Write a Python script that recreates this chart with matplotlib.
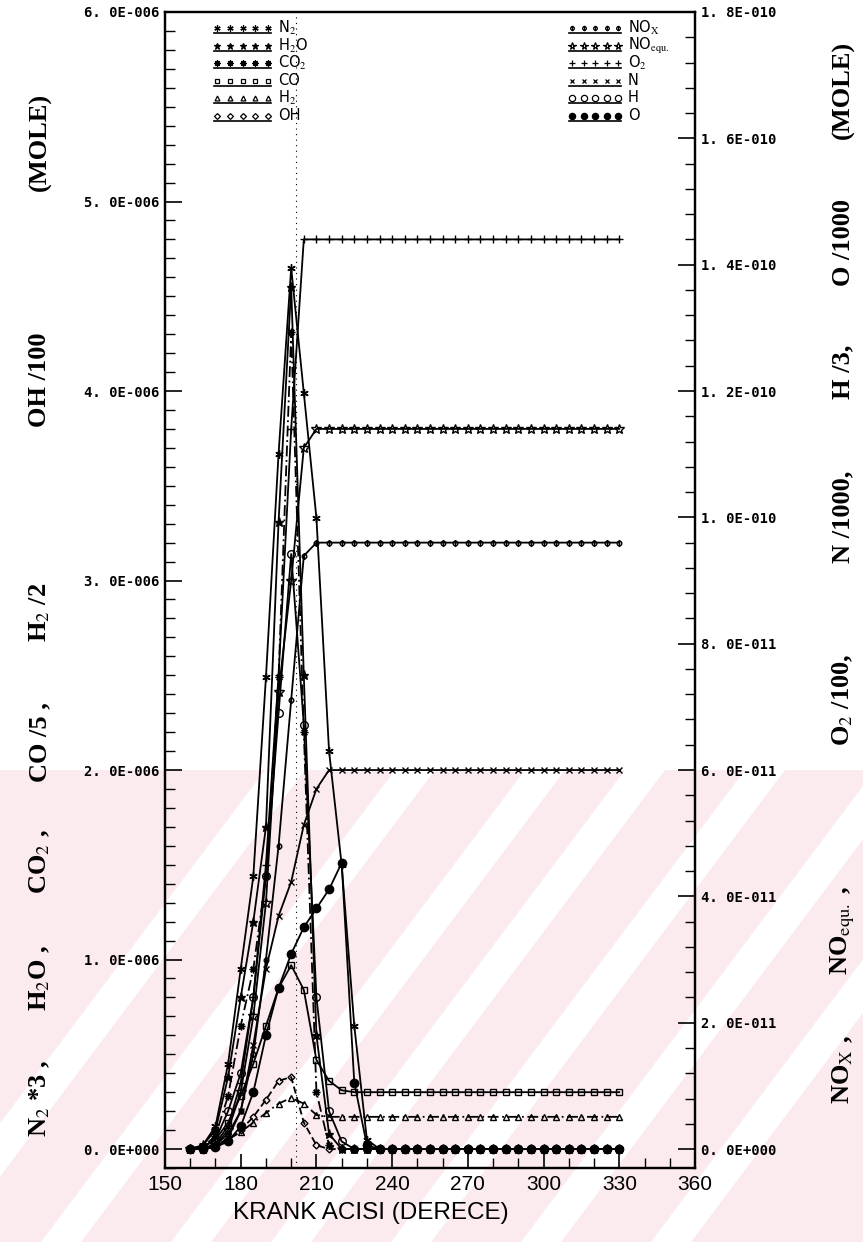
import matplotlib
matplotlib.use("Agg")
import matplotlib.pyplot as plt
from matplotlib.path import Path
from matplotlib.patches import Polygon
from matplotlib.ticker import MultipleLocator, FixedLocator

# ---------------- data ----------------
crank = [160, 165, 170, 175, 180, 185, 190, 195, 200, 205, 210, 215, 220, 225, 230, 235,
         240, 245, 250, 255, 260, 265, 270, 275, 280, 285, 290, 295, 300, 305, 310, 315,
         320, 325, 330]

# left axis series (x 1e-6 mole)
n2x3 = [0, 0.02, 0.12, 0.45, 0.95, 1.44, 2.49, 3.67, 4.65, 3.99, 3.33, 2.10, 1.50, 0.65, 0.05, 0,
        0, 0, 0, 0, 0, 0, 0, 0, 0, 0, 0, 0, 0, 0, 0, 0, 0, 0, 0]
h2o = [0, 0.02, 0.10, 0.38, 0.80, 1.20, 1.70, 3.31, 4.55, 2.50, 0.60, 0.08, 0, 0, 0, 0,
       0, 0, 0, 0, 0, 0, 0, 0, 0, 0, 0, 0, 0, 0, 0, 0, 0, 0, 0]
co2 = [0, 0.01, 0.07, 0.28, 0.65, 0.95, 1.44, 2.49, 4.31, 2.20, 0.30, 0.02, 0, 0, 0, 0,
       0, 0, 0, 0, 0, 0, 0, 0, 0, 0, 0, 0, 0, 0, 0, 0, 0, 0, 0]
co_5 = [0, 0.01, 0.05, 0.14, 0.28, 0.45, 0.65, 0.85, 0.97, 0.84, 0.47, 0.36, 0.31, 0.30, 0.30, 0.30,
        0.30, 0.30, 0.30, 0.30, 0.30, 0.30, 0.30, 0.30, 0.30, 0.30, 0.30, 0.30, 0.30, 0.30, 0.30, 0.30,
        0.30, 0.30, 0.30]
h2_2 = [0, 0, 0.02, 0.05, 0.09, 0.14, 0.19, 0.24, 0.27, 0.24, 0.18, 0.17, 0.17, 0.17, 0.17, 0.17,
        0.17, 0.17, 0.17, 0.17, 0.17, 0.17, 0.17, 0.17, 0.17, 0.17, 0.17, 0.17, 0.17, 0.17, 0.17, 0.17,
        0.17, 0.17, 0.17]
oh_100 = [0, 0, 0.02, 0.05, 0.10, 0.17, 0.26, 0.36, 0.38, 0.14, 0.02, 0, 0, 0, 0, 0,
          0, 0, 0, 0, 0, 0, 0, 0, 0, 0, 0, 0, 0, 0, 0, 0, 0, 0, 0]

# right axis series (x 1e-11 mole)
nox = [0, 0, 0.06, 0.24, 0.60, 1.50, 3.00, 4.80, 7.11, 9.39, 9.60, 9.60, 9.60, 9.60, 9.60, 9.60,
       9.60, 9.60, 9.60, 9.60, 9.60, 9.60, 9.60, 9.60, 9.60, 9.60, 9.60, 9.60, 9.60, 9.60, 9.60, 9.60,
       9.60, 9.60, 9.60]
no_equ = [0, 0, 0.06, 0.30, 0.90, 2.10, 3.90, 7.23, 9.00, 11.1, 11.4, 11.4, 11.4, 11.4, 11.4, 11.4,
          11.4, 11.4, 11.4, 11.4, 11.4, 11.4, 11.4, 11.4, 11.4, 11.4, 11.4, 11.4, 11.4, 11.4, 11.4, 11.4,
          11.4, 11.4, 11.4]
o2_100 = [0, 0, 0.09, 0.36, 1.05, 2.40, 4.50, 7.50, 11.4, 14.4, 14.4, 14.4, 14.4, 14.4, 14.4, 14.4,
          14.4, 14.4, 14.4, 14.4, 14.4, 14.4, 14.4, 14.4, 14.4, 14.4, 14.4, 14.4, 14.4, 14.4, 14.4, 14.4,
          14.4, 14.4, 14.4]
n_1000 = [0, 0, 0.03, 0.18, 0.60, 1.65, 2.85, 3.69, 4.23, 5.13, 5.70, 6.00, 6.00, 6.00, 6.00, 6.00,
          6.00, 6.00, 6.00, 6.00, 6.00, 6.00, 6.00, 6.00, 6.00, 6.00, 6.00, 6.00, 6.00, 6.00, 6.00, 6.00,
          6.00, 6.00, 6.00]
h_3 = [0, 0.03, 0.15, 0.60, 1.20, 2.40, 4.32, 6.90, 9.42, 6.72, 2.40, 0.60, 0.12, 0, 0, 0,
       0, 0, 0, 0, 0, 0, 0, 0, 0, 0, 0, 0, 0, 0, 0, 0, 0, 0, 0]
o_1000 = [0, 0, 0.03, 0.12, 0.36, 0.90, 1.80, 2.55, 3.09, 3.51, 3.81, 4.11, 4.53, 1.05, 0.06, 0,
          0, 0, 0, 0, 0, 0, 0, 0, 0, 0, 0, 0, 0, 0, 0, 0, 0, 0, 0]

left_ticks = [0, 1, 2, 3, 4, 5, 6]
left_ticklabels = ["0. 0E+000", "1. 0E-006", "2. 0E-006", "3. 0E-006", "4. 0E-006", "5. 0E-006", "6. 0E-006"]
right_ticks = [0, 2, 4, 6, 8, 10, 12, 14, 16, 18]
right_ticklabels = ["0. 0E+000", "2. 0E-011", "4. 0E-011", "6. 0E-011", "8. 0E-011", "1. 0E-010",
                    "1. 2E-010", "1. 4E-010", "1. 6E-010", "1. 8E-010"]
x_ticks = [150, 180, 210, 240, 270, 300, 330, 360]
marker_line_deg = 202

left_label_parts = [r"N$_2$ *3 ,", r"H$_2$O ,", r"CO$_2$ ,", r"CO /5 ,", r"H$_2$ /2", r"OH /100", r"(MOLE)"]
right_label_parts = [r"NO$_{\rm X}$ ,", r"NO$_{\rm equ.}$ ,", r"O$_2$ /100,", r"N /1000,", r"H /3,",
                     r"O /1000", r"(MOLE)"]

# ---------------- figure ----------------
W, H, DPI = 863, 1242, 100
fig = plt.figure(figsize=(W / DPI, H / DPI), dpi=DPI)
plt.rcParams["mathtext.fontset"] = "stix"


def fpt(px, py):
    return px / W, 1 - py / H


# light pink watermark of the scanned page
pink = "#fcebee"
fig.patches.append(Polygon([fpt(0, 770), fpt(W, 770), fpt(W, H), fpt(0, H)], closed=True,
                           transform=fig.transFigure, facecolor=pink, edgecolor="none", zorder=-10))
for c in (40, 170, 300, 400, 520, 650, 780):
    sl = -0.75
    xa, xb = c + sl * (770 - 1070), c + sl * (H - 1070)
    fig.patches.append(Polygon([fpt(xa, 770), fpt(xa + 40, 770), fpt(xb + 40, H), fpt(xb, H)],
                               closed=True, transform=fig.transFigure, facecolor="white",
                               edgecolor="none", zorder=-9))

L, R, T, B = 165, 695, 12, 1168
ax = fig.add_axes([L / W, 1 - B / H, (R - L) / W, (B - T) / H])
ax.set_facecolor("none")
ax.set_xlim(150, 360)
ax.set_ylim(-0.1, 6.0)
ax2 = ax.twinx()
ax2.set_ylim(-0.3, 18.0)

for a in (ax, ax2):
    for s in a.spines.values():
        s.set_linewidth(1.6)

# custom markers
circ = Path.unit_circle()
phi_marker = Path.make_compound_path(circ, Path([(0, -1.5), (0, 1.5)], [Path.MOVETO, Path.LINETO]))
star6 = (6, 2, 0)

styles_left = [
    (n2x3, dict(marker=star6, ms=6, mfc="k", ls="-")),
    (h2o, dict(marker="*", ms=6.5, mfc="k", ls="-")),
    (co2, dict(marker=(8, 2, 0), ms=5.5, mfc="k", ls=(0, (6, 2, 1, 2)))),
    (co_5, dict(marker="s", ms=4.5, mfc="none", ls="-")),
    (h2_2, dict(marker="^", ms=4.5, mfc="none", ls=(0, (6, 2, 1, 2)))),
    (oh_100, dict(marker="D", ms=3.5, mfc="none", ls=(0, (4, 2)))),
]
for vals, st in styles_left:
    ax.plot(crank, vals, color="k", lw=1.3, mec="k", mew=1.0, **st)

styles_right = [
    (nox, dict(marker=phi_marker, ms=5, mfc="none", ls="-")),
    (no_equ, dict(marker="*", ms=7, mfc="none", ls="-")),
    (o2_100, dict(marker="+", ms=5.5, ls="-")),
    (n_1000, dict(marker="x", ms=4.5, ls="-")),
    (h_3, dict(marker="o", ms=5.5, mfc="none", ls="-")),
    (o_1000, dict(marker="o", ms=6, mfc="k", ls="-")),
]
for vals, st in styles_right:
    ax2.plot(crank, vals, color="k", lw=1.3, mec="k", mew=1.0, **st)

ax.axvline(marker_line_deg, color="k", lw=0.8, ls=(0, (1, 4)))

# ticks
tick_font = dict(family="DejaVu Sans Mono", weight="bold", size=10)
ax.yaxis.set_major_locator(FixedLocator(left_ticks))
ax.set_yticklabels(left_ticklabels, **tick_font)
ax.yaxis.set_minor_locator(MultipleLocator(0.1))
ax2.yaxis.set_major_locator(FixedLocator(right_ticks))
ax2.set_yticklabels(right_ticklabels, **tick_font)
ax2.yaxis.set_minor_locator(MultipleLocator(0.4))
ax.tick_params(axis="y", which="major", direction="in", length=12, width=1.2, pad=4)
ax.tick_params(axis="y", which="minor", direction="in", length=7, width=1.0)
ax2.tick_params(axis="y", which="major", direction="in", length=12, width=1.2, pad=4)
ax2.tick_params(axis="y", which="minor", direction="in", length=7, width=1.0)

sans = ["Liberation Sans", "DejaVu Sans"]
ax.xaxis.set_major_locator(FixedLocator(x_ticks))
ax.xaxis.set_minor_locator(MultipleLocator(10))
ax.set_xticklabels([str(v) for v in x_ticks], family=sans, size=15)
ax.tick_params(axis="x", which="major", direction="in", length=10, width=1.2, pad=5)
ax.tick_params(axis="x", which="minor", direction="in", length=7, width=1.0)

fig.text(*fpt(371, 1213), "KRANK ACISI (DERECE)", family=sans, size=17.5, ha="center", va="center")

serif = ["Liberation Serif", "DejaVu Serif"]
left_centers = [1098, 978, 862, 742, 612, 380, 142]
for txt, cy in zip(left_label_parts, left_centers):
    fig.text(*fpt(40, cy), txt, rotation=90, ha="center", va="center",
             family=serif, weight="bold", size=19)
right_centers = [1070, 930, 700, 517, 372, 243, 90]
for txt, cy in zip(right_label_parts, right_centers):
    fig.text(*fpt(843, cy), txt, rotation=90, ha="center", va="center",
             family=serif, weight="bold", size=19)

# legends (drawn inside the axes)
def px2ax(px, py):
    return (px - L) / (R - L), (B - py) / (B - T)

left_leg = [
    ("N$_2$", dict(marker=star6, ms=4.5, mfc="k")),
    ("H$_2$O", dict(marker="*", ms=5, mfc="k")),
    ("CO$_2$", dict(marker=(8, 2, 0), ms=4.5, mfc="k")),
    ("CO", dict(marker="s", ms=3.5, mfc="none")),
    ("H$_2$", dict(marker="^", ms=3.5, mfc="none")),
    ("OH", dict(marker="D", ms=3, mfc="none")),
]
right_leg = [
    ("NO$_{\\rm X}$", dict(marker=phi_marker, ms=4, mfc="none")),
    ("NO$_{\\rm equ.}$", dict(marker="*", ms=5.5, mfc="none")),
    ("O$_2$", dict(marker="+", ms=4.5)),
    ("N", dict(marker="x", ms=3.5)),
    ("H", dict(marker="o", ms=4.5, mfc="none")),
    ("O", dict(marker="o", ms=4.5, mfc="k")),
]
leg_font = dict(family="DejaVu Sans", size=10.5)
for rows, x0, x1, xt in ((left_leg, 217, 268, 278), (right_leg, 572, 618, 628)):
    for i, (lab, st) in enumerate(rows):
        py = 28 + i * 17.5
        xs = [x0 + k * (x1 - x0) / 4 for k in range(5)]
        pts = [px2ax(xx, py) for xx in xs]
        ax.plot([p[0] for p in pts], [p[1] for p in pts], color="k", lw=1.0, ls="none",
                mec="k", mew=0.9, transform=ax.transAxes, clip_on=False, **st)
        a0 = px2ax(x0 - 3, py + 5)
        a1 = px2ax(x1 + 3, py + 5)
        ax.plot([a0[0], a1[0]], [a0[1], a1[1]], color="k", lw=1.2, transform=ax.transAxes)
        tx, ty = px2ax(xt, py)
        ax.text(tx, ty, lab, transform=ax.transAxes, ha="left", va="center", **leg_font)

fig.savefig("out.png", dpi=DPI)
